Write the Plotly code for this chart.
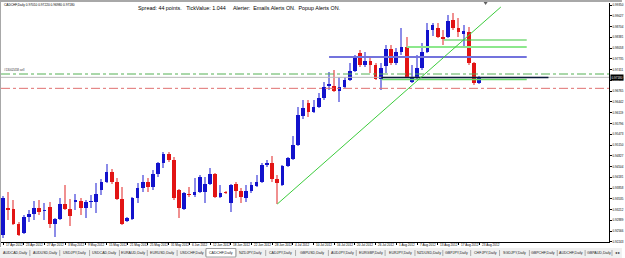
import plotly.graph_objects as go

# ---------------- data ----------------
symbol = "CADCHF,Daily"

date_labels = ["17 Apr 2012", "23 Apr 2012", "27 Apr 2012", "3 May 2012", "9 May 2012",
               "15 May 2012", "21 May 2012", "25 May 2012", "31 May 2012", "6 Jun 2012",
               "12 Jun 2012", "18 Jun 2012", "22 Jun 2012", "28 Jun 2012", "4 Jul 2012",
               "10 Jul 2012", "16 Jul 2012", "20 Jul 2012", "26 Jul 2012", "1 Aug 2012",
               "7 Aug 2012", "13 Aug 2012", "17 Aug 2012", "23 Aug 2012"]
date_label_bars = [0, 4, 8, 12, 16, 20, 24, 28, 32, 36, 40, 44, 48, 52, 56, 60,
                   64, 68, 72, 76, 80, 84, 88, 92]

opens = [0.9245, 0.9326, 0.9323, 0.9278, 0.9251, 0.9299, 0.9308, 0.9326, 0.9317, 0.9329,
         0.9278, 0.9293, 0.9338, 0.9323, 0.9344, 0.9347, 0.9326, 0.9344, 0.9344, 0.9380,
         0.9404, 0.9434, 0.9404, 0.9353, 0.9287, 0.9293, 0.9356, 0.9386, 0.9404, 0.9389,
         0.9428, 0.9461, 0.9488, 0.9470, 0.9380, 0.9323, 0.9368, 0.9365, 0.9374, 0.9374,
         0.9398, 0.9428, 0.9359, 0.9374, 0.9341, 0.9398, 0.9377, 0.9356, 0.9377, 0.9392,
         0.9404, 0.9455, 0.9461, 0.9413, 0.9395, 0.9452, 0.9473, 0.9515, 0.9602, 0.9641,
         0.9614, 0.9629, 0.9656, 0.9692, 0.9692, 0.9677, 0.9689, 0.9710, 0.9737, 0.9791,
         0.9755, 0.9767, 0.9755, 0.9713, 0.9752, 0.9803, 0.9761, 0.9794, 0.9809, 0.9704,
         0.9719, 0.9746, 0.9794, 0.9860, 0.9866, 0.9839, 0.9839, 0.9890, 0.9866, 0.9848,
         0.9854, 0.9761, 0.9701]
highs = [0.9362, 0.9374, 0.9350, 0.9284, 0.9305, 0.9320, 0.9347, 0.9350, 0.9341, 0.9344,
         0.9296, 0.9356, 0.9395, 0.9353, 0.9368, 0.9356, 0.9350, 0.9365, 0.9401, 0.9413,
         0.9458, 0.9443, 0.9416, 0.9389, 0.9299, 0.9359, 0.9401, 0.9425, 0.9416, 0.9440,
         0.9464, 0.9494, 0.9494, 0.9479, 0.9383, 0.9374, 0.9389, 0.9416, 0.9425, 0.9419,
         0.9446, 0.9431, 0.9395, 0.9377, 0.9398, 0.9404, 0.9386, 0.9395, 0.9404, 0.9425,
         0.9461, 0.9470, 0.9482, 0.9425, 0.9455, 0.9479, 0.9542, 0.9629, 0.9650, 0.9650,
         0.9650, 0.9671, 0.9704, 0.9734, 0.9740, 0.9719, 0.9719, 0.9761, 0.9785, 0.9800,
         0.9794, 0.9776, 0.9761, 0.9761, 0.9815, 0.9815, 0.9806, 0.9866, 0.9839, 0.9755,
         0.9785, 0.9821, 0.9881, 0.9881, 0.9881, 0.9860, 0.9905, 0.9911, 0.9896, 0.9875,
         0.9869, 0.9764, 0.9722]
lows = [0.9236, 0.9290, 0.9275, 0.9242, 0.9248, 0.9284, 0.9290, 0.9305, 0.9290, 0.9266,
        0.9239, 0.9290, 0.9320, 0.9272, 0.9320, 0.9305, 0.9296, 0.9326, 0.9311, 0.9365,
        0.9401, 0.9398, 0.9350, 0.9275, 0.9284, 0.9290, 0.9341, 0.9374, 0.9374, 0.9380,
        0.9419, 0.9446, 0.9464, 0.9350, 0.9296, 0.9320, 0.9359, 0.9359, 0.9371, 0.9341,
        0.9395, 0.9357, 0.9356, 0.9368, 0.9314, 0.9356, 0.9341, 0.9344, 0.9371, 0.9389,
        0.9401, 0.9449, 0.9404, 0.9338, 0.9392, 0.9449, 0.9470, 0.9512, 0.9593, 0.9599,
        0.9611, 0.9626, 0.9650, 0.9680, 0.9674, 0.9644, 0.9686, 0.9707, 0.9734, 0.9749,
        0.9749, 0.9731, 0.9710, 0.9680, 0.9731, 0.9755, 0.9755, 0.9785, 0.9716, 0.9701,
        0.9710, 0.9740, 0.9791, 0.9842, 0.9836, 0.9815, 0.9836, 0.9860, 0.9839, 0.9809,
        0.9755, 0.9695, 0.9698]
closes = [0.9356, 0.9320, 0.9278, 0.9245, 0.9299, 0.9308, 0.9326, 0.9314, 0.9320, 0.9278,
          0.9293, 0.9338, 0.9323, 0.9302, 0.9350, 0.9326, 0.9344, 0.9347, 0.9368, 0.9404,
          0.9434, 0.9404, 0.9353, 0.9278, 0.9296, 0.9356, 0.9386, 0.9404, 0.9389, 0.9428,
          0.9461, 0.9488, 0.9470, 0.9356, 0.9326, 0.9371, 0.9365, 0.9374, 0.9419, 0.9398,
          0.9428, 0.9359, 0.9371, 0.9371, 0.9395, 0.9377, 0.9359, 0.9377, 0.9395, 0.9404,
          0.9455, 0.9461, 0.9413, 0.9401, 0.9452, 0.9476, 0.9515, 0.9605, 0.9626, 0.9614,
          0.9629, 0.9656, 0.9689, 0.9698, 0.9677, 0.9689, 0.9710, 0.9737, 0.9776, 0.9755,
          0.9767, 0.9755, 0.9713, 0.9746, 0.9803, 0.9761, 0.9794, 0.9809, 0.9719, 0.9719,
          0.9746, 0.9794, 0.9860, 0.9875, 0.9839, 0.9833, 0.9887, 0.9866, 0.9854, 0.9857,
          0.9761, 0.9701, 0.9718]

price_ticks = [0.99350, 0.99027, 0.98704, 0.98381, 0.98058, 0.97735, 0.97411, 0.97088,
               0.96765, 0.96442, 0.96119, 0.95796, 0.95473, 0.95150, 0.94827, 0.94504,
               0.94181, 0.93858, 0.93535, 0.93212, 0.92889, 0.92566, 0.92243]

# drawn objects (bar index, price)
order_level = 0.9728
stop_level = 0.9685
blue_level = (63, 101.2, 0.9779)
green_levels = [(85.2, 101.2, 0.9830), (78.0, 101.2, 0.9809), (73.1, 101.2, 0.97115)]
navy_level = (73.1, 105.4, 0.97175)
trend_line = (53, 0.9338, 96.2, 0.9929)
order_label = "#13002458 sell"

tabs = ["AUDCAD,Daily", "AUDUSD,Daily", "USDJPY,Daily", "USDCAD,Daily", "EURAUD,Daily",
        "EURUSD,Daily", "USDCHF,Daily", "CADCHF,Daily", "NZDJPY,Daily", "CADJPY,Daily",
        "GBPUSD,Daily", "AUDJPY,Daily", "EURGBP,Daily", "EURJPY,Daily", "NZDUSD,Daily",
        "GBPJPY,Daily", "CHFJPY,Daily", "SGDJPY,Daily", "GBPCHF,Daily", "AUDCHF,Daily",
        "GBPAUD,Daily"]
active_tab = "CADCHF,Daily"
info_text = ("Spread: 44 points.&nbsp;&nbsp; TickValue: 1.044 &nbsp;&nbsp;&nbsp; Alerter:&nbsp; "
             "Emails Alerts ON.&nbsp; Popup Alerts ON.")

# ---------------- layout geometry ----------------
W, H = 625, 258
ML, MR, MT, MB = 1, 13, 3, 16
PW, PH = W - ML - MR, H - MT - MB
BAR_PX = 5.2
x_range = [-0.4, -0.4 + PW / BAR_PX]
y_range = [0.9224, 0.9941]


def px(x):
    return (x - ML) / PW


def py(y):
    return 1 - (y - MT) / PH


FONT = "Liberation Sans, Arial, sans-serif"
BULL, BEAR = "#1212CC", "#E21414"
BULL_W, BEAR_W = "#8C8CE8", "#F09090"

n = len(opens)
idx = list(range(n))
bull = [closes[i] >= opens[i] for i in idx]

fig = go.Figure()
# wicks
fig.add_trace(go.Bar(x=idx, base=lows, y=[highs[i] - lows[i] for i in idx], width=0.2,
                     marker=dict(color=[BULL_W if b else BEAR_W for b in bull], line_width=0),
                     hoverinfo="skip"))
# bodies
fig.add_trace(go.Bar(x=idx, base=[min(opens[i], closes[i]) for i in idx],
                     y=[max(abs(closes[i] - opens[i]), 0.0001) for i in idx], width=0.72,
                     marker=dict(color=[BULL if b else BEAR for b in bull], line_width=0),
                     hoverinfo="skip"))

shapes = []
# tab bar (below everything)
shapes.append(dict(type="rect", xref="paper", yref="paper", x0=px(0), x1=px(W), y0=py(248), y1=py(H),
                   line_width=0, fillcolor="#F0F0F0", layer="below"))
seps = [30, 60, 90, 120, 148, 178, 207, 237, 267, 297, 330, 358, 387, 417, 445, 473, 502, 532, 560, 588, 615]
for s in seps:
    shapes.append(dict(type="line", xref="paper", yref="paper", x0=px(s), x1=px(s), y0=py(250), y1=py(256),
                       line=dict(color="#9A9A9A", width=0.8), layer="below"))
ai = tabs.index(active_tab)
shapes.append(dict(type="rect", xref="paper", yref="paper", x0=px(seps[ai - 1]), x1=px(seps[ai]),
                   y0=py(248.5), y1=py(257), line=dict(color="#8A8A8A", width=0.8), fillcolor="#FFFFFF",
                   layer="below"))
# full-width level lines
shapes.append(dict(type="line", xref="paper", yref="y", x0=0, x1=1, y0=order_level, y1=order_level,
                   line=dict(color="#55B055", width=1, dash="dashdot")))
shapes.append(dict(type="line", xref="paper", yref="y", x0=0, x1=1, y0=closes[-1], y1=closes[-1],
                   line=dict(color="#B8B8B8", width=1)))
shapes.append(dict(type="line", xref="paper", yref="y", x0=0, x1=1, y0=stop_level, y1=stop_level,
                   line=dict(color="#E07070", width=1, dash="dashdot")))
# horizontal objects
shapes.append(dict(type="line", xref="x", yref="y", x0=blue_level[0], x1=blue_level[1],
                   y0=blue_level[2], y1=blue_level[2], line=dict(color="#7373DD", width=2)))
for (a, b, p), col, wd in zip(green_levels, ["#3CC83C", "#8CE88C", "#6CDC6C"], [1, 2, 1.5]):
    shapes.append(dict(type="line", xref="x", yref="y", x0=a, x1=b, y0=p, y1=p,
                       line=dict(color=col, width=wd)))
shapes.append(dict(type="line", xref="x", yref="y", x0=navy_level[0], x1=navy_level[1],
                   y0=navy_level[2], y1=navy_level[2], line=dict(color="#0A1A3A", width=1.5)))
# trend line
shapes.append(dict(type="line", xref="x", yref="y", x0=trend_line[0], y0=trend_line[1],
                   x1=trend_line[2], y1=trend_line[3], line=dict(color="#3CCC3C", width=1)))
# window borders
shapes.append(dict(type="rect", xref="paper", yref="paper", x0=px(0), x1=px(W), y0=py(0), y1=py(2),
                   line_width=0, fillcolor="#A8A8A8", layer="above"))
shapes.append(dict(type="rect", xref="paper", yref="paper", x0=px(0), x1=px(1), y0=py(0), y1=py(247),
                   line_width=0, fillcolor="#A8A8A8", layer="above"))
# chart shift marker
shapes.append(dict(type="path", xref="paper", yref="paper",
                   path=f"M {px(486)} {py(2)} L {px(490)} {py(2)} L {px(488)} {py(5)} Z",
                   fillcolor="#606060", line_width=0, layer="above"))

annotations = []
last = n - 1
annotations.append(dict(xref="paper", yref="paper", x=px(2), y=py(4.5), xanchor="left", yanchor="middle",
                        text=f"{symbol} {opens[last]:.5f} {highs[last]:.5f} {lows[last]:.5f} {closes[last]:.5f}",
                        showarrow=False, font=dict(family=FONT, size=3.2, color="#000")))
annotations.append(dict(xref="paper", yref="paper", x=px(137), y=py(8), xanchor="left", yanchor="middle",
                        text=info_text, showarrow=False, font=dict(family=FONT, size=5.4, color="#000")))
annotations.append(dict(xref="paper", yref="y", x=px(2), y=order_level, xanchor="left", yanchor="bottom",
                        text=order_label, showarrow=False, font=dict(family=FONT, size=3, color="#333")))
annotations.append(dict(xref="paper", yref="y", x=1, y=closes[-1], xanchor="left", yanchor="middle",
                        text=f"{closes[-1]:.5f}", showarrow=False, bgcolor="#000", borderpad=0.6,
                        xshift=1, font=dict(family=FONT, size=3, color="#FFF")))
# date labels, left-aligned at their bar
for b, t in zip(date_label_bars, date_labels):
    annotations.append(dict(xref="x", yref="paper", x=b, y=py(244.8), xanchor="left", yanchor="middle",
                            xshift=0.5, text=t, showarrow=False,
                            font=dict(family=FONT, size=3.1, color="#000")))
prev = 0
for t, s in zip(tabs, seps):
    annotations.append(dict(xref="paper", yref="paper", x=px((prev + s) / 2), y=py(253), xanchor="center",
                            yanchor="middle", text=t, showarrow=False,
                            font=dict(family=FONT, size=3.6, color="#222")))
    prev = s
annotations.append(dict(xref="paper", yref="paper", x=px(621), y=py(253), xanchor="center", yanchor="middle",
                        text="◂ ▸", showarrow=False, font=dict(family=FONT, size=3.6, color="#222")))

fig.update_layout(
    width=W, height=H, margin=dict(l=ML, r=MR, t=MT, b=MB, pad=0),
    plot_bgcolor="#FFFFFF", paper_bgcolor="#FFFFFF", showlegend=False,
    barmode="overlay", bargap=0,
    shapes=shapes, annotations=annotations,
    xaxis=dict(range=x_range, tickmode="array", tickvals=date_label_bars, showticklabels=False,
               ticks="outside", ticklen=2, tickwidth=0.8, tickcolor="#000",
               showline=True, linecolor="#000", linewidth=1, showgrid=False, zeroline=False,
               fixedrange=True),
    yaxis=dict(range=y_range, side="right", tickmode="array", tickvals=price_ticks,
               ticktext=[f"{v:.5f}" for v in price_ticks], ticks="outside", ticklen=2, tickwidth=0.8,
               tickcolor="#000", tickfont=dict(family=FONT, size=3, color="#000"),
               showline=True, linecolor="#000", linewidth=1, showgrid=False, zeroline=False,
               fixedrange=True),
)

fig.write_html("out.html")
